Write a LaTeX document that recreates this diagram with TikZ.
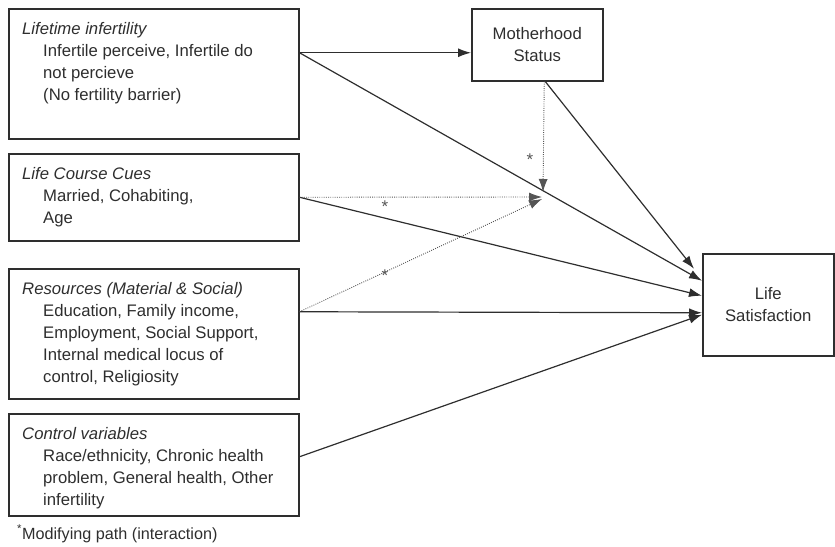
\documentclass[tikz,border=0pt]{standalone}
\usepackage{fontspec}
\setmainfont{Liberation Sans}
\usetikzlibrary{arrows.meta}
\definecolor{ink}{HTML}{2E2E2E}
\definecolor{dotc}{HTML}{555555}
\begin{document}
\begin{tikzpicture}[x=1pt,y=-1pt,
  boxst/.style={draw=ink, line width=1.5pt, inner sep=0pt, anchor=north west},
  txt/.style={text=ink, inner sep=0pt, anchor=north west, align=left,
    font=\fontsize{16.7}{22}\selectfont},
  ctxt/.style={text=ink, inner sep=0pt, align=center,
    font=\fontsize{16.7}{22}\selectfont},
  arr/.style={draw=ink, line width=1.2pt, -{Latex[length=13pt,width=9pt]}},
  darr/.style={draw=dotc, line width=0.9pt, dash pattern=on 0.9pt off 1.3pt,
    -{Latex[length=13pt,width=9pt]}},
  star/.style={text=dotc, inner sep=0pt, font=\fontsize{17}{17}\selectfont}]
\useasboundingbox (0,0) rectangle (835,546);

% boxes
\node[boxst, minimum width=290pt, minimum height=130pt] (b1) at (8,8) {};
\node[boxst, minimum width=290pt, minimum height=87pt] (b2) at (8,153) {};
\node[boxst, minimum width=290pt, minimum height=130pt] (b3) at (8,268) {};
\node[boxst, minimum width=290pt, minimum height=102pt] (b4) at (8,413) {};
\node[boxst, minimum width=131pt, minimum height=72pt] (ms) at (471,8) {};
\node[boxst, minimum width=131pt, minimum height=102pt] (ls) at (702,253) {};

% texts
\node[txt] (t1) at ([xshift=14pt,yshift=-14pt]b1.north west)
  {\textit{Lifetime infertility}\\
   \hspace*{21pt}Infertile perceive, Infertile do\\
   \hspace*{21pt}not percieve\\
   \hspace*{21pt}(No fertility barrier)};
\node[txt] (t2) at ([xshift=14pt,yshift=-14pt]b2.north west)
  {\textit{Life Course Cues}\\
   \hspace*{21pt}Married, Cohabiting,\\
   \hspace*{21pt}Age};
\node[txt] (t3) at ([xshift=14pt,yshift=-14pt]b3.north west)
  {\textit{Resources (Material \& Social)}\\
   \hspace*{21pt}Education, Family income,\\
   \hspace*{21pt}Employment, Social Support,\\
   \hspace*{21pt}Internal medical locus of\\
   \hspace*{21pt}control, Religiosity};
\node[txt] (t4) at ([xshift=14pt,yshift=-14pt]b4.north west)
  {\textit{Control variables}\\
   \hspace*{21pt}Race/ethnicity, Chronic health\\
   \hspace*{21pt}problem, General health, Other\\
   \hspace*{21pt}infertility};
\node[ctxt] (tms) at (ms.center) {Motherhood\\Status};
\node[ctxt] (tls) at (ls.center) {Life\\Satisfaction};
\node[text=ink, inner sep=0pt, anchor=base west,
  font=\fontsize{16.2}{18}\selectfont] (fn) at (17,539)
  {\textsuperscript{*}Modifying path (interaction)};

% solid paths
\draw[arr] ([yshift=21pt]b1.east) -- ([yshift=-8pt]ms.west);
\draw[arr] ([yshift=21pt]b1.east) -- ([yshift=24pt]ls.west);
\draw[arr] ([xshift=8pt]ms.south) -- ([xshift=-8pt,yshift=36pt]ls.west);
\draw[arr] (b2.east) -- ([yshift=9pt]ls.west);
\draw[arr] ([yshift=22pt]b3.east) -- ([yshift=-8pt]ls.west);
\draw[arr] ([yshift=8pt]b4.east) -- ([yshift=-10pt]ls.west);

% modifying paths
\coordinate (modv) at (543,192);
\coordinate (modh) at (542,197);
\coordinate (modd) at (542,199);
\draw[darr] ([xshift=7pt]ms.south) -- (modv);
\draw[darr] (b2.east) -- (modh);
\draw[darr] ([yshift=22pt]b3.east) -- (modd);

\node[star] (s1) at (530,160) {*};
\node[star] (s2) at (385,207) {*};
\node[star] (s3) at (385,276) {*};
\end{tikzpicture}
\end{document}
